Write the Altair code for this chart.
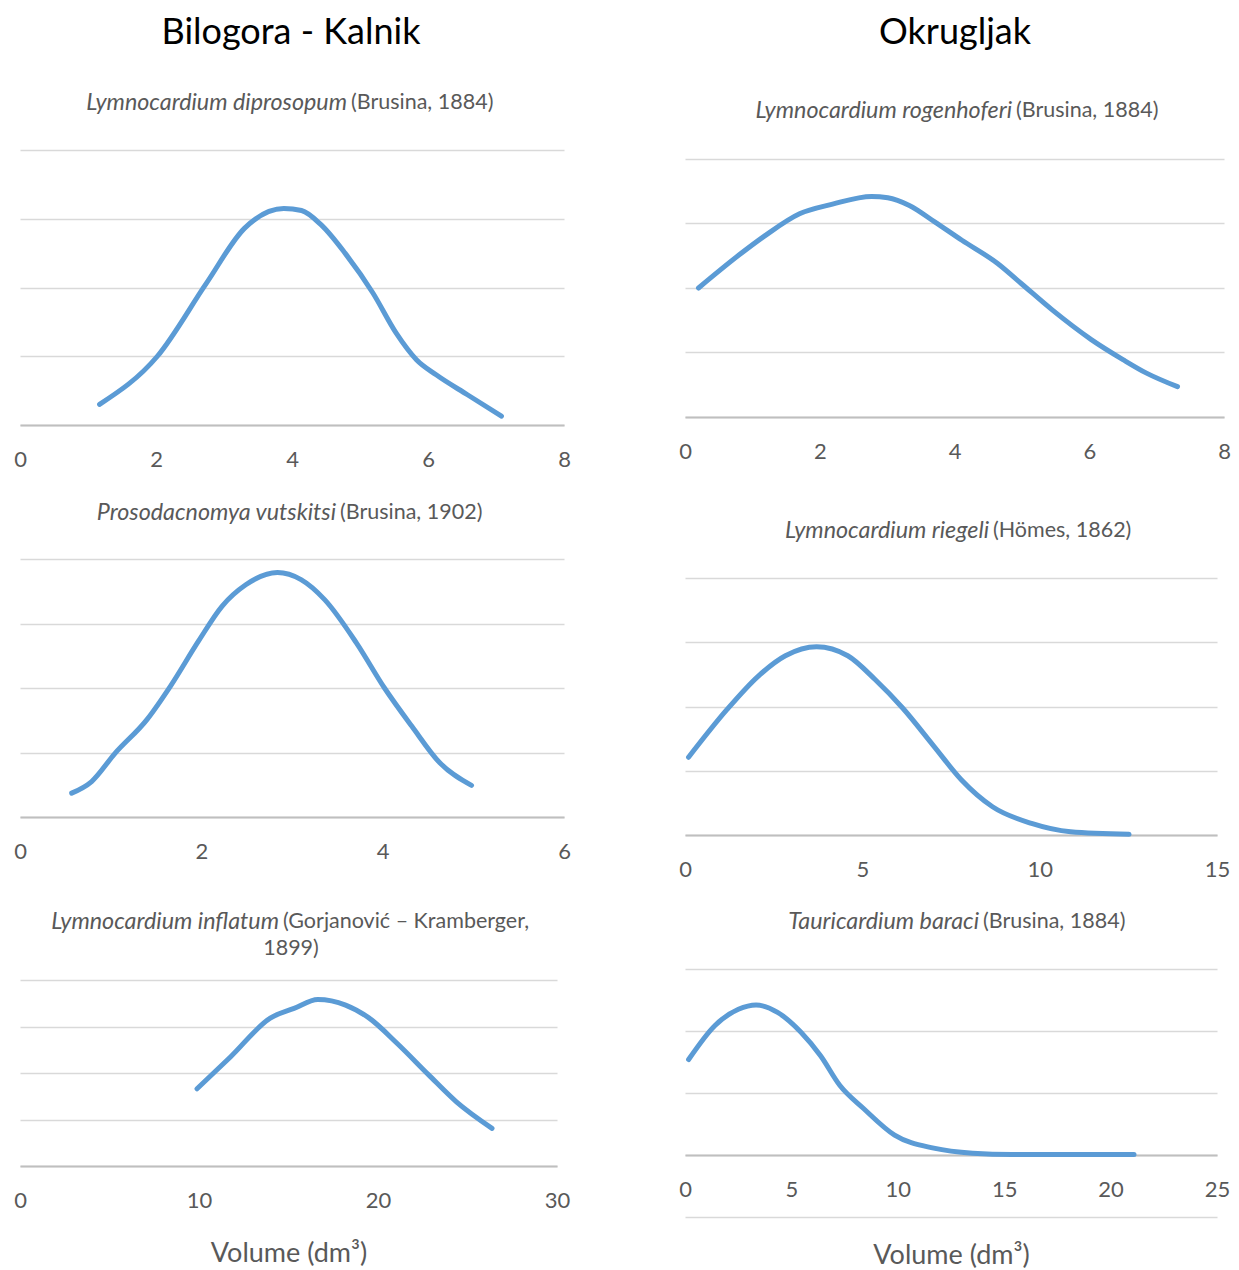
import altair as alt
import pandas as pd

FONT = "Lato"
LINE_COLOR = "#5b9bd5"
TEXT_COLOR = "#595959"
GRID_COLOR = "#d9d9d9"
AXIS_COLOR = "#bfbfbf"
ITAL_FS = 23.3
NORM_FS = 21.5
TICK_FS = 22
COL_FS = 36
XT_FS = 27

COL_TITLES = ["Bilogora - Kalnik", "Okrugljak"]
X_TITLE = "Volume (dm³)"

# Bilogora - Kalnik
L1_SPECIES = "Lymnocardium diprosopum"
L1_AUTHOR = "(Brusina, 1884)"
L1_X = [1.17, 2.02, 2.74, 3.30, 3.88, 4.14, 4.43, 4.78, 5.19, 5.53, 5.83, 6.12, 6.58, 7.08]
L1_Y = [0.30, 1.00, 2.06, 2.86, 3.15, 3.12, 2.91, 2.50, 1.92, 1.34, 0.95, 0.73, 0.44, 0.13]

L2_SPECIES = "Prosodacnomya vutskitsi"
L2_AUTHOR = "(Brusina, 1902)"
L2_X = [0.57, 0.79, 1.05, 1.40, 1.66, 1.97, 2.23, 2.49, 2.84, 3.10, 3.36, 3.71, 4.02, 4.32, 4.63, 4.98]
L2_Y = [0.37, 0.55, 0.99, 1.51, 2.03, 2.73, 3.27, 3.60, 3.79, 3.68, 3.37, 2.70, 2.00, 1.41, 0.84, 0.49]

L3_SPECIES = "Lymnocardium inflatum"
L3_AUTHOR = "(Gorjanović – Kramberger,"
L3_AUTHOR2 = "1899)"
L3_X = [9.89, 11.77, 13.98, 15.31, 16.64, 18.19, 19.51, 21.06, 22.83, 24.38, 26.37]
L3_Y = [1.66, 2.35, 3.18, 3.39, 3.58, 3.46, 3.18, 2.64, 1.96, 1.38, 0.81]

# Okrugljak
R1_SPECIES = "Lymnocardium rogenhoferi"
R1_AUTHOR = "(Brusina, 1884)"
R1_X = [0.20, 0.80, 1.20, 1.70, 2.19, 2.77, 3.01, 3.33, 3.70, 4.11, 4.64, 4.99, 5.45, 6.03, 6.50, 6.85, 7.31]
R1_Y = [2.00, 2.51, 2.82, 3.15, 3.30, 3.42, 3.40, 3.28, 3.03, 2.74, 2.38, 2.07, 1.66, 1.20, 0.89, 0.68, 0.47]

R2_SPECIES = "Lymnocardium riegeli"
R2_AUTHOR = "(Hömes, 1862)"
R2_X = [0.10, 1.18, 2.06, 2.83, 3.71, 4.59, 5.36, 6.13, 7.02, 7.79, 8.67, 9.77, 10.87, 12.52]
R2_Y = [1.21, 1.95, 2.47, 2.79, 2.93, 2.79, 2.42, 1.98, 1.38, 0.86, 0.44, 0.18, 0.05, 0.01]

R3_SPECIES = "Tauricardium baraci"
R3_AUTHOR = "(Brusina, 1884)"
R3_X = [0.17, 1.41, 2.51, 3.34, 4.35, 5.45, 6.37, 7.28, 8.39, 9.85, 11.69, 13.52, 15.36, 21.10]
R3_Y = [1.54, 2.09, 2.35, 2.42, 2.30, 1.98, 1.60, 1.12, 0.75, 0.32, 0.11, 0.03, 0.01, 0.01]


def text_layer(txt, px, py, align, style, size=None, color=TEXT_COLOR):
    if size is None:
        size = ITAL_FS if style == "italic" else NORM_FS
    return alt.Chart(pd.DataFrame({"t": [txt]})).mark_text(
        align=align, baseline="middle", font=FONT, fontSize=size,
        fontStyle=style, color=color,
    ).encode(x=alt.value(px), y=alt.value(py), text="t:N")


def panel(xs, ys, xmax, xstep, ymin, ymax, w, h, texts, axis_offset=0, xtitle=None,
          title_pad=27, ytop=None):
    df = pd.DataFrame({"x": xs, "y": ys})
    axis_kw = dict(
        values=list(range(0, xmax + 1, xstep)), format="d", grid=False, ticks=False,
        domainColor=AXIS_COLOR, domainWidth=2, labelColor=TEXT_COLOR, labelFont=FONT,
        labelFontSize=TICK_FS, labelPadding=24, labelFlush=False,
        titleFont=FONT, titleFontSize=XT_FS, titleColor=TEXT_COLOR, titleFontWeight="normal",
        titlePadding=title_pad,
    )
    if axis_offset:
        axis_kw["offset"] = axis_offset
    top = ymax if ytop is None else ytop
    line = alt.Chart(df).mark_line(
        color=LINE_COLOR, strokeWidth=5, strokeCap="round", strokeJoin="round",
        interpolate="monotone",
    ).encode(
        x=alt.X("x:Q", scale=alt.Scale(domain=[0, xmax], nice=False, zero=False),
                axis=alt.Axis(**axis_kw), title=xtitle),
        y=alt.Y("y:Q", scale=alt.Scale(domain=[ymin, top], nice=False, zero=False),
                axis=alt.Axis(values=list(range(ymin, ymax + 1)), labels=False, ticks=False,
                              domain=False, grid=True, gridColor=GRID_COLOR, gridWidth=1.3),
                title=None),
    )
    layers = [line] + [text_layer(*t) for t in texts]
    return alt.layer(*layers).properties(width=w, height=h)


L1 = panel(L1_X, L1_Y, 8, 2, 0, 4, 544, 275,
           [(L1_SPECIES, 327, -47, "right", "italic"), (L1_AUTHOR, 331, -47, "left", "normal"),
            (COL_TITLES[0], 271, -117, "center", "normal", COL_FS, "#000000")])
L2 = panel(L2_X, L2_Y, 6, 2, 0, 4, 544, 258,
           [(L2_SPECIES, 316, -46, "right", "italic"), (L2_AUTHOR, 320, -46, "left", "normal")])
L3 = panel(L3_X, L3_Y, 30, 10, 0, 4, 537, 186,
           [(L3_SPECIES, 259, -58, "right", "italic"), (L3_AUTHOR, 263, -58, "left", "normal"),
            (L3_AUTHOR2, 271, -31, "center", "normal")],
           xtitle=X_TITLE, title_pad=29)

# R1: plot area extends 9px above its top gridline so both columns share one top
R1 = panel(R1_X, R1_Y, 8, 2, 0, 4, 539, 267,
           [(R1_SPECIES, 327, -39, "right", "italic"), (R1_AUTHOR, 331, -39, "left", "normal"),
            (COL_TITLES[1], 270, -117, "center", "normal", COL_FS, "#000000")],
           ytop=4.1395)
R2 = panel(R2_X, R2_Y, 15, 5, 0, 4, 532, 257,
           [(R2_SPECIES, 304, -47, "right", "italic"), (R2_AUTHOR, 308, -47, "left", "normal")])
R3 = panel(R3_X, R3_Y, 25, 5, -1, 3, 532, 248,
           [(R3_SPECIES, 294, -47, "right", "italic"), (R3_AUTHOR, 298, -47, "left", "normal")],
           axis_offset=-62, xtitle=X_TITLE, title_pad=42)

left = alt.vconcat(alt.vconcat(L1, L2, spacing=31), L3, spacing=48)
right = alt.vconcat(R1, alt.vconcat(R2, R3, spacing=30), spacing=57)

chart = alt.hconcat(left, right, spacing=107).properties(
    padding={"left": 5, "top": 7, "right": 0, "bottom": 0}
).configure_view(strokeWidth=0)

chart.save("out.html", embed_options={"renderer": "svg", "actions": False})
